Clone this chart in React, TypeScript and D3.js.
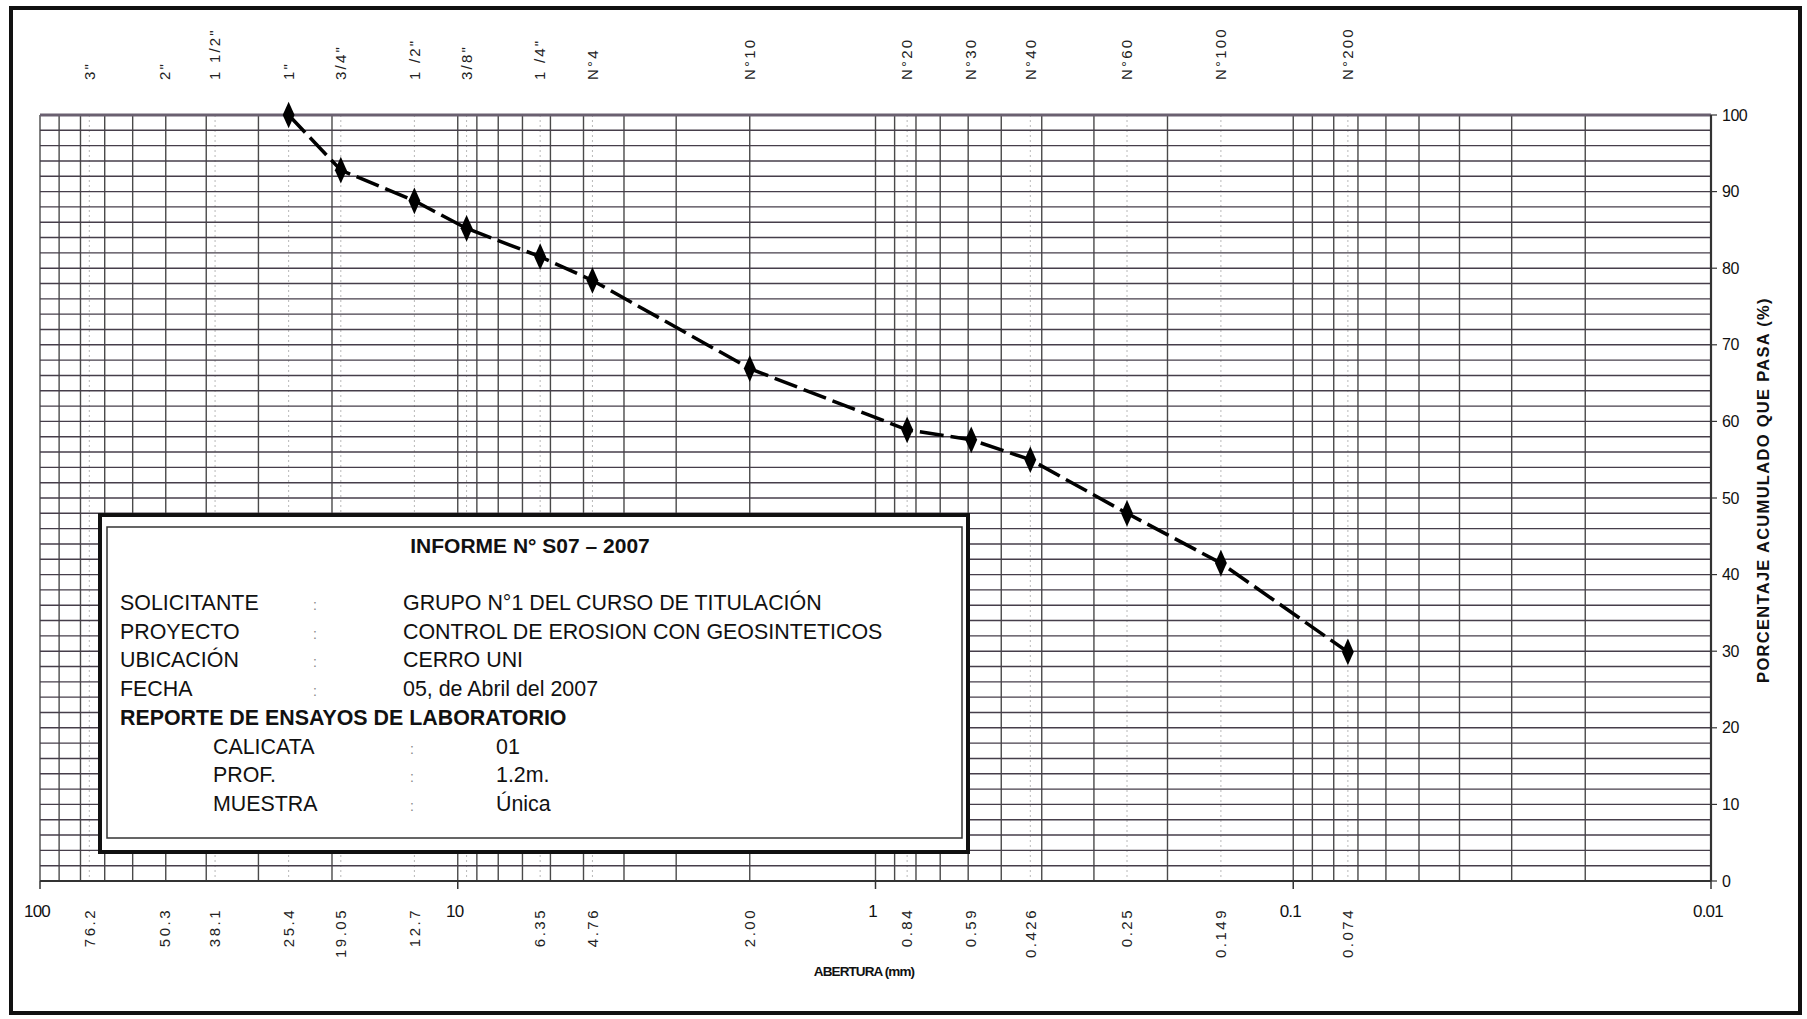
import React from 'react';
import * as d3 from 'd3';

// ---- data ----
const sieveLabelsTop = ['3"', '2"', '1 1/2"', '1"', '3/4"', '1 /2"', '3/8"', '1 /4"', 'N°4', 'N°10', 'N°20', 'N°30', 'N°40', 'N°60', 'N°100', 'N°200'];
const sieveSizesTop = [76.2, 50.3, 38.1, 25.4, 19.05, 12.7, 9.525, 6.35, 4.76, 2.0, 0.84, 0.59, 0.426, 0.25, 0.149, 0.074];
const bottomLabels = ['76.2', '50.3', '38.1', '25.4', '19.05', '12.7', '6.35', '4.76', '2.00', '0.84', '0.59', '0.426', '0.25', '0.149', '0.074'];
const bottomSizes = [76.2, 50.3, 38.1, 25.4, 19.05, 12.7, 6.35, 4.76, 2.0, 0.84, 0.59, 0.426, 0.25, 0.149, 0.074];
const decadeTicks = [100, 10, 1, 0.1, 0.01];
const decadeLabels = ['100', '10', '1', '0.1', '0.01'];
const yTicks = [0, 10, 20, 30, 40, 50, 60, 70, 80, 90, 100];
const testSizes = [25.4, 19.05, 12.7, 9.525, 6.35, 4.76, 2.0, 0.84, 0.59, 0.426, 0.25, 0.149, 0.074];
const percentPassing = [100, 92.8, 88.8, 85.2, 81.5, 78.4, 66.9, 58.9, 57.6, 55.0, 48.0, 41.5, 29.9];

const infoTitle = 'INFORME N° S07 – 2007';
const infoLabels = ['SOLICITANTE', 'PROYECTO', 'UBICACIÓN', 'FECHA'];
const infoValues = ['GRUPO N°1 DEL CURSO DE TITULACIÓN', 'CONTROL DE EROSION CON GEOSINTETICOS', 'CERRO UNI', '05, de Abril del 2007'];
const reportTitle = 'REPORTE DE ENSAYOS DE LABORATORIO';
const sampleLabels = ['CALICATA', 'PROF.', 'MUESTRA'];
const sampleValues = ['01', '1.2m.', 'Única'];
const xTitle = 'ABERTURA (mm)';
const yTitle = 'PORCENTAJE ACUMULADO QUE PASA (%)';

const W = 1807;
const H = 1019;
const FONT = '"Liberation Sans", Arial, sans-serif';
const NARROW = '"Liberation Sans Narrow", "Arial Narrow", "Liberation Sans", sans-serif';

export default function App() {
  const x = d3.scaleLog().domain([100, 0.01]).range([40, 1711]);
  const y = d3.scaleLinear().domain([0, 100]).range([881, 115]);

  // log grid values 1..9 per decade
  const gridX: number[] = [];
  [0.01, 0.1, 1, 10].forEach((d) => {
    for (let k = 1; k <= 9; k++) gridX.push(+(k * d).toPrecision(3));
  });
  gridX.push(100);
  const lightX = sieveSizesTop.filter((s) => !gridX.some((g) => Math.abs(x(g) - x(s)) < 4));
  const gridY = d3.range(0, 101, 2);

  const pts = testSizes.map((s, i) => [x(s), y(percentPassing[i])] as [number, number]);
  const line = d3.line()(pts) as string;
  const diamond = d3.symbol().type(d3.symbolDiamond).size(170)() as string;

  const x0 = x(100);
  const x1 = x(0.01);
  const yTop = y(100);
  const yBot = y(0);

  // info box
  const bx = 100, by = 515, bw = 868, bh = 337;
  const lineGap = 28.7;
  const firstBase = 610;

  return (
    <svg width={W} height={H} style={{ position: 'absolute', left: 0, top: 0, background: '#fff' }} fontFamily={FONT}>
      <rect x={0} y={0} width={W} height={H} fill="#fff" />
      {/* outer frame */}
      <rect x={11} y={8} width={1789} height={1005} fill="none" stroke="#111" strokeWidth={4} />

      {/* grid */}
      {lightX.map((v, i) => (
        <line key={'lx' + i} x1={x(v)} x2={x(v)} y1={yTop} y2={yBot} stroke="#b8b8b8" strokeWidth={1} strokeDasharray="2 3" />
      ))}
      {gridX.map((v, i) => (
        <line key={'gx' + i} x1={x(v)} x2={x(v)} y1={yTop} y2={yBot} stroke="#4a4a4a" strokeWidth={1.4} />
      ))}
      {gridY.map((v, i) => (
        <line key={'gy' + i} x1={x0} x2={x1} y1={y(v)} y2={y(v)} stroke="#463e4a" strokeWidth={1.4} />
      ))}
      <line x1={x0} x2={x1} y1={yTop} y2={yTop} stroke="#6a6070" strokeWidth={3} />
      <line x1={x0} x2={x1} y1={yBot} y2={yBot} stroke="#333" strokeWidth={2.2} />
      <line x1={x1} x2={x1} y1={yTop} y2={yBot} stroke="#333" strokeWidth={2.2} />
      {decadeTicks.map((v, i) => (
        <line key={'dt' + i} x1={x(v)} x2={x(v)} y1={yBot} y2={yBot + 8} stroke="#333" strokeWidth={1.5} />
      ))}

      {/* top sieve labels */}
      {sieveLabelsTop.map((t, i) => (
        <text key={'tl' + i} transform={`translate(${x(sieveSizesTop[i])},80) rotate(-90)`} dy="0.35em" fontSize={15} letterSpacing={2.2} fill="#222">
          {t}
        </text>
      ))}

      {/* bottom labels */}
      {bottomLabels.map((t, i) => (
        <text key={'bl' + i} transform={`translate(${x(bottomSizes[i])},908) rotate(-90)`} dy="0.35em" textAnchor="end" fontSize={15} letterSpacing={2.5} fill="#222">
          {t}
        </text>
      ))}
      {decadeLabels.map((t, i) => (
        <text key={'dl' + i} x={x(decadeTicks[i]) - 3} y={917} textAnchor="middle" fontSize={17} fontFamily={NARROW} letterSpacing={-0.8} fill="#111">
          {t}
        </text>
      ))}
      <text x={864} y={976} textAnchor="middle" fontSize={13.5} fontWeight="bold" letterSpacing={-0.9} fill="#111">
        {xTitle}
      </text>

      {/* right y labels */}
      {yTicks.map((v, i) => (
        <g key={'yl' + i}>
          <line x1={x1} x2={x1 + 6} y1={y(v)} y2={y(v)} stroke="#333" strokeWidth={1.2} />
          <text x={x1 + 11} y={y(v)} dy="0.35em" fontSize={16} fill="#111" letterSpacing={-0.5}>
            {v}
          </text>
        </g>
      ))}
      <text transform={`translate(1763,490) rotate(-90)`} dy="0.35em" textAnchor="middle" fontSize={16.5} fontWeight="bold" letterSpacing={1.3} fill="#111">
        {yTitle}
      </text>

      {/* info box */}
      <rect x={bx} y={by} width={bw} height={bh} fill="#fff" stroke="#111" strokeWidth={4} />
      <rect x={bx + 7} y={by + 12} width={bw - 13} height={bh - 26} fill="none" stroke="#333" strokeWidth={1.5} />
      <text x={530} y={553} textAnchor="middle" fontSize={21} fontWeight="bold" fill="#111">
        {infoTitle}
      </text>
      {infoLabels.map((t, i) => (
        <g key={'il' + i} fontSize={21.4} fill="#111">
          <text x={120} y={firstBase + i * lineGap}>{t}</text>
          <text x={313} y={firstBase + i * lineGap} fill="#888" fontSize={14}>:</text>
          <text x={403} y={firstBase + i * lineGap}>{infoValues[i]}</text>
        </g>
      ))}
      <text x={120} y={firstBase + 4 * lineGap} fontSize={21.4} fontWeight="bold" fill="#111">
        {reportTitle}
      </text>
      {sampleLabels.map((t, i) => (
        <g key={'sl' + i} fontSize={21.4} fill="#111">
          <text x={213} y={firstBase + (5 + i) * lineGap}>{t}</text>
          <text x={410} y={firstBase + (5 + i) * lineGap} fill="#888" fontSize={14}>:</text>
          <text x={496} y={firstBase + (5 + i) * lineGap}>{sampleValues[i]}</text>
        </g>
      ))}

      {/* data */}
      <path d={line} fill="none" stroke="#000" strokeWidth={3.5} strokeDasharray="24 7" />
      {pts.map((p, i) => (
        <path key={'m' + i} d={diamond} transform={`translate(${p[0]},${p[1]}) scale(0.85,1.1)`} fill="#000" />
      ))}
    </svg>
  );
}
